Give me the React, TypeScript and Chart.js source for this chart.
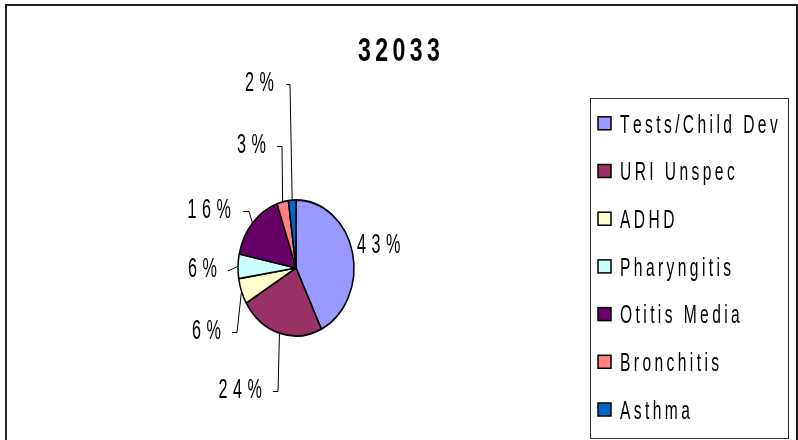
import React, { useEffect, useRef } from "react";
import { Chart, registerables } from "chart.js";

Chart.register(...registerables);

const chartTitle = "32033";
const categories = [
  "Tests/Child Dev",
  "URI Unspec",
  "ADHD",
  "Pharyngitis",
  "Otitis Media",
  "Bronchitis",
  "Asthma",
];
const shares = [42.8, 23.6, 6.1, 5.8, 16.4, 3.2, 2.1];
const sliceColors = [
  "#9999FF",
  "#993366",
  "#FFFFCC",
  "#CCFFFF",
  "#660066",
  "#FF8080",
  "#0066CC",
];

const FONT = '"Liberation Sans", Arial, sans-serif';

function drawSpaced(
  ctx: CanvasRenderingContext2D,
  text: string,
  x: number,
  cy: number,
  size: number,
  bold: boolean,
  align: "left" | "right" | "center",
  spacing: number,
  sx: number
) {
  ctx.save();
  ctx.font = `${bold ? "bold " : ""}${size}px ${FONT}`;
  ctx.fillStyle = "#000";
  ctx.textBaseline = "alphabetic";
  ctx.textAlign = "left";
  const chars = Array.from(text);
  const widths = chars.map((c) => ctx.measureText(c).width * sx);
  const total = widths.reduce((a, b) => a + b, 0) + spacing * (chars.length - 1);
  let pos = align === "left" ? x : align === "right" ? x - total : x - total / 2;
  const base = cy + size * 0.358;
  chars.forEach((c, i) => {
    ctx.save();
    ctx.translate(pos, base);
    ctx.scale(sx, 1);
    ctx.fillText(c, 0, 0);
    ctx.restore();
    pos += widths[i] + spacing;
  });
  ctx.restore();
}

// vertical stretch of the pie (it is drawn as an ellipse)
const Y_STRETCH = 68 / 58;

// label layout (positions only)
const labelLayout = [
  { side: "right", x: 357, y: 243 },
  { side: "left", x: 262, y: 388, lineStart: 273, elbow: 278 },
  { side: "left", x: 221, y: 329, lineStart: 232, elbow: 237 },
  { side: "left", x: 217, y: 267, lineStart: 228, elbow: 229 },
  { side: "left", x: 231, y: 208, lineStart: 243, elbow: 249 },
  { side: "left", x: 266, y: 143, lineStart: 277, elbow: 282 },
  { side: "left", x: 274, y: 81, lineStart: 286, elbow: 290 },
];

const ellipsePlugin = {
  id: "ellipse",
  beforeDatasetsDraw(chart: any) {
    const arc = chart.getDatasetMeta(0).data[0];
    if (!arc) return;
    const ctx = chart.ctx;
    ctx.save();
    ctx.translate(arc.x, arc.y);
    ctx.scale(1, Y_STRETCH);
    ctx.translate(-arc.x, -arc.y);
  },
  afterDatasetsDraw(chart: any) {
    chart.ctx.restore();
  },
};

const decorPlugin = {
  id: "decor",
  afterDraw(chart: any) {
    const ctx: CanvasRenderingContext2D = chart.ctx;
    const meta = chart.getDatasetMeta(0);
    const total = shares.reduce((a, b) => a + b, 0);

    // outer frame
    ctx.save();
    ctx.strokeStyle = "#222";
    ctx.lineWidth = 2;
    ctx.strokeRect(6, 5, 791, 445);
    ctx.restore();

    // title
    drawSpaced(ctx, chartTitle, 399, 49, 34, true, "center", 4.4, 0.68);

    // data labels with leader lines
    meta.data.forEach((arc: any, i: number) => {
      const lay: any = labelLayout[i];
      const pct = Math.round((shares[i] / total) * 100);
      const text = `${pct}%`;
      if (lay.side === "right") {
        drawSpaced(ctx, text, lay.x, lay.y, 27, false, "left", 5.5, 0.6);
      } else {
        drawSpaced(ctx, text, lay.x, lay.y, 27, false, "right", 5.5, 0.6);
        const mid = (arc.startAngle + arc.endAngle) / 2;
        const ax = arc.x + Math.cos(mid) * arc.outerRadius;
        const ay = arc.y + Math.sin(mid) * arc.outerRadius * Y_STRETCH;
        const ly = lay.y + 3;
        ctx.save();
        ctx.strokeStyle = "#000";
        ctx.lineWidth = 1;
        ctx.beginPath();
        ctx.moveTo(lay.lineStart, ly + 0.5);
        ctx.lineTo(lay.elbow, ly + 0.5);
        ctx.lineTo(ax, ay);
        ctx.stroke();
        ctx.restore();
      }
    });

    // legend
    const boxL = 590.5, boxT = 98.5, boxR = 788.5, boxB = 438.5;
    ctx.save();
    ctx.strokeStyle = "#333";
    ctx.lineWidth = 1;
    ctx.strokeRect(boxL, boxT, boxR - boxL, boxB - boxT);
    ctx.restore();
    const rowTop = 123.3;
    const rowStep = 47.7;
    categories.forEach((name, i) => {
      const cy = rowTop + i * rowStep;
      ctx.save();
      ctx.fillStyle = sliceColors[i];
      ctx.fillRect(598, cy - 6.5, 13, 13);
      ctx.strokeStyle = "#000";
      ctx.lineWidth = 1.5;
      ctx.strokeRect(598, cy - 6.5, 13, 13);
      ctx.restore();
      drawSpaced(ctx, name, 620, cy, 26, false, "left", 3.4, 0.6);
    });
  },
};

export default function App() {
  const canvasRef = useRef<HTMLCanvasElement | null>(null);

  useEffect(() => {
    const canvas = canvasRef.current;
    if (!canvas) return;
    const chart = new Chart(canvas, {
      type: "pie",
      data: {
        labels: categories,
        datasets: [
          {
            data: shares,
            backgroundColor: sliceColors,
            borderColor: "#000",
            borderWidth: 1.5,
          },
        ],
      },
      options: {
        responsive: false,
        animation: false,
        devicePixelRatio: 1,
        events: [],
        radius: 58,
        layout: { padding: { left: 100, right: 306, top: 150, bottom: 54 } },
        plugins: {
          legend: { display: false },
          title: { display: false },
          tooltip: { enabled: false },
        },
      } as any,
      plugins: [ellipsePlugin, decorPlugin],
    });
    return () => chart.destroy();
  }, []);

  return (
    <div
      style={{
        position: "absolute",
        left: 0,
        top: 0,
        width: 798,
        height: 440,
        background: "#fff",
      }}
    >
      <canvas ref={canvasRef} width={798} height={440} style={{ display: "block" }} />
    </div>
  );
}
